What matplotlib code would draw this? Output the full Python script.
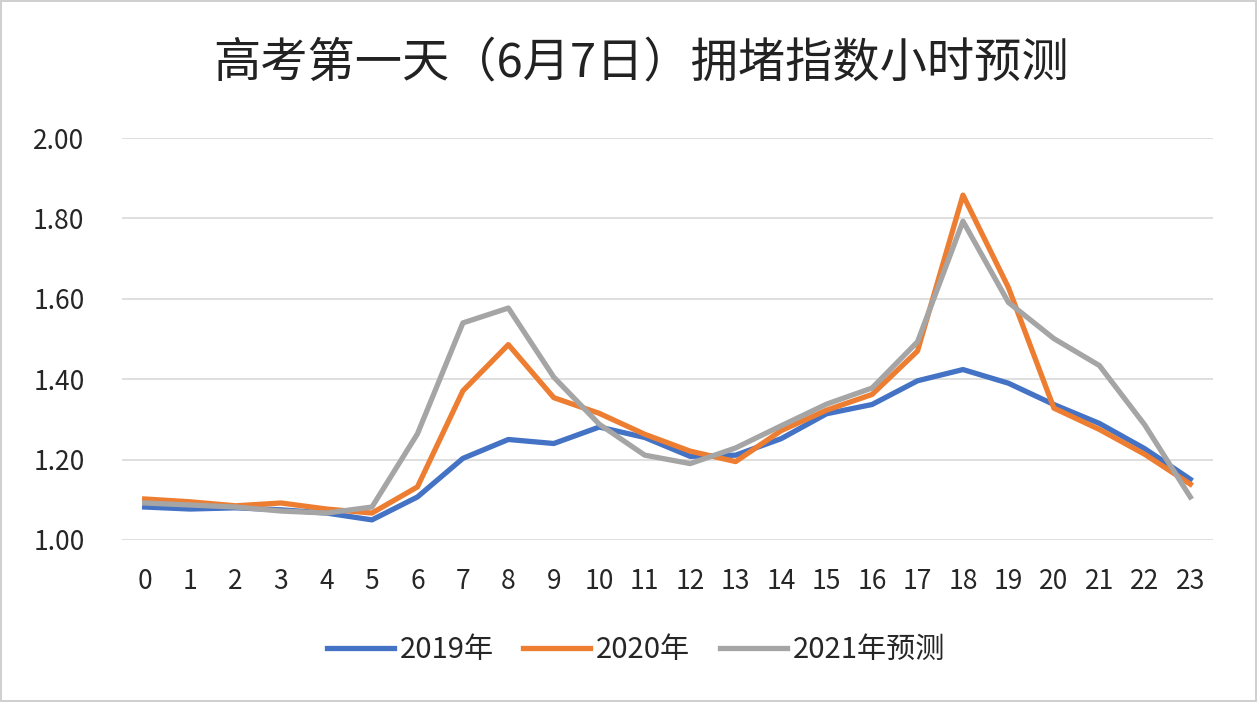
import matplotlib
matplotlib.use('Agg')
import matplotlib.pyplot as plt

plt.rcParams['font.family'] = ['Noto Sans CJK SC', 'DejaVu Sans']

# 数据 (小时 0-23)
hours = list(range(24))
hour_labels = [str(h) for h in hours]

idx_2019 = [1.082, 1.077, 1.080, 1.075, 1.067, 1.050, 1.107, 1.203, 1.250, 1.240,
            1.281, 1.255, 1.208, 1.211, 1.252, 1.314, 1.337, 1.396, 1.424, 1.390,
            1.337, 1.290, 1.227, 1.151]
idx_2020 = [1.102, 1.095, 1.085, 1.092, 1.077, 1.067, 1.132, 1.371, 1.486, 1.354,
            1.315, 1.263, 1.221, 1.195, 1.272, 1.323, 1.362, 1.470, 1.858, 1.628,
            1.328, 1.275, 1.213, 1.139]
idx_2021 = [1.092, 1.087, 1.082, 1.072, 1.067, 1.082, 1.264, 1.540, 1.577, 1.405,
            1.288, 1.211, 1.190, 1.229, 1.284, 1.338, 1.378, 1.493, 1.793, 1.591,
            1.501, 1.434, 1.286, 1.107]

y_ticks = [1.0, 1.2, 1.4, 1.6, 1.8, 2.0]

series = [
    ("2019年", idx_2019, "#4472C4"),
    ("2020年", idx_2020, "#ED7D31"),
    ("2021年预测", idx_2021, "#A5A5A5"),
]

fig = plt.figure(figsize=(12.57, 7.02), dpi=100)
fig.patch.set_facecolor("white")
fig.patch.set_edgecolor("#D0D0D0")
fig.patch.set_linewidth(1.5)

ax = fig.add_axes([0.097, 0.2308, 0.868, 0.5726])
for label, vals, color in series:
    ax.plot(hours, vals, color=color, linewidth=3.8, label=label)

ax.set_xlim(-0.5, 23.5)
ax.set_ylim(1.0, 2.0)
ax.set_yticks(y_ticks)
ax.set_yticklabels([f"{v:.2f}" for v in y_ticks])
ax.set_xticks(hours)
ax.set_xticklabels(hour_labels)
ax.tick_params(axis="both", length=0, labelsize=19, colors="#262626")
ax.tick_params(axis="y", pad=27)
ax.tick_params(axis="x", pad=20)
ax.grid(axis="y", color="#D9D9D9", linewidth=1.2)
ax.set_axisbelow(True)
for s in ax.spines.values():
    s.set_visible(False)

fig.text(0.51, 0.91, "高考第一天（6月7日）拥堵指数小时预测", ha="center", va="center",
         fontsize=34, color="#222222")

fig.legend(loc="center", bbox_to_anchor=(0.506, 0.074), ncol=3, frameon=False,
           fontsize=21, handlelength=2.3, handletextpad=0.2, columnspacing=1.0,
           labelcolor="#262626")

fig.savefig("out.png", dpi=100, facecolor="white")
